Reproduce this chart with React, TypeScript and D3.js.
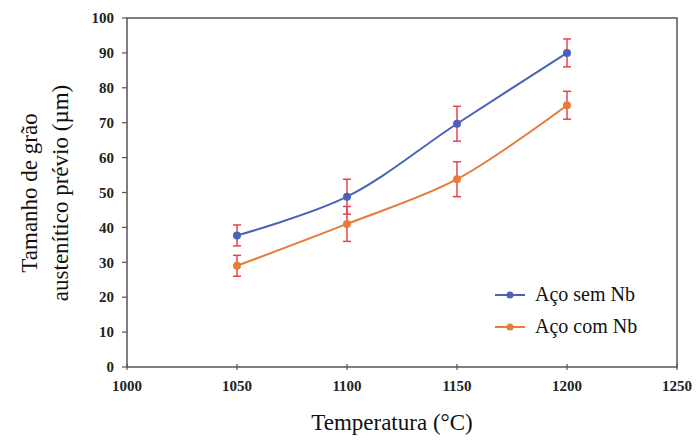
import React from "react";
import * as d3 from "d3";

const temps = [1050, 1100, 1150, 1200];
const semNb = [37.7, 48.8, 69.7, 90];
const semNbErr = [3, 5, 5, 4];
const comNb = [29, 41, 53.8, 75];
const comNbErr = [3, 5, 5, 4];
const xTicks = [1000, 1050, 1100, 1150, 1200, 1250];
const yTicks = [0, 10, 20, 30, 40, 50, 60, 70, 80, 90, 100];
const seriesNames = ["Aço sem Nb", "Aço com Nb"];
const seriesColors = ["#4a63b8", "#e87a3a"];

const W = 698;
const H = 443;
const left = 127;
const right = 677;
const top = 18;
const bottom = 367;

const font = "'Liberation Serif', 'Times New Roman', serif";

export default function App() {
  const x = d3.scaleLinear().domain([1000, 1250]).range([left, right]);
  const y = d3.scaleLinear().domain([0, 100]).range([bottom, top]);
  const line = d3
    .line<[number, number]>()
    .x((d) => x(d[0]))
    .y((d) => y(d[1]))
    .curve(d3.curveCatmullRom.alpha(0.5));

  const series = [
    { vals: semNb, err: semNbErr },
    { vals: comNb, err: comNbErr },
  ];
  const errColor = "#e8434d";
  const ts = { fontFamily: font };

  return (
    <svg
      width={W}
      height={H}
      style={{ position: "absolute", left: 0, top: 0, background: "#fff" }}
    >
      <rect x={0} y={0} width={W} height={H} fill="#fff" />
      <rect x={left} y={top} width={right - left} height={bottom - top} fill="none" stroke="#555" strokeWidth={1.5} />
      {yTicks.map((t) => (
        <g key={"y" + t}>
          <line x1={left - 5} x2={left} y1={y(t)} y2={y(t)} stroke="#555" strokeWidth={1.2} />
          <text
            x={left - 13}
            y={y(t)}
            dy="0.35em"
            textAnchor="end"
            fontSize={15}
            fontWeight="bold"
            fill="#222"
            style={ts}
          >
            {t}
          </text>
        </g>
      ))}
      {xTicks.map((t) => (
        <g key={"x" + t}>
          <line x1={x(t)} x2={x(t)} y1={bottom - 3} y2={bottom + 3} stroke="#555" strokeWidth={1.2} />
          <text
            x={x(t)}
            y={bottom + 19}
            dy="0.35em"
            textAnchor="middle"
            fontSize={15}
            fontWeight="bold"
            fill="#222"
            style={ts}
          >
            {t}
          </text>
        </g>
      ))}
      {series.map((s, i) => (
        <path
          key={"l" + i}
          d={line(temps.map((t, j) => [t, s.vals[j]] as [number, number])) || ""}
          fill="none"
          stroke={seriesColors[i]}
          strokeWidth={2}
        />
      ))}
      {series.map((s, i) =>
        temps.map((t, j) => (
          <g key={"e" + i + "-" + j} stroke={errColor} strokeWidth={1.5}>
            <line x1={x(t)} x2={x(t)} y1={y(s.vals[j] + s.err[j])} y2={y(s.vals[j] - s.err[j])} />
            <line x1={x(t) - 4} x2={x(t) + 4} y1={y(s.vals[j] + s.err[j])} y2={y(s.vals[j] + s.err[j])} />
            <line x1={x(t) - 4} x2={x(t) + 4} y1={y(s.vals[j] - s.err[j])} y2={y(s.vals[j] - s.err[j])} />
          </g>
        ))
      )}
      {series.map((s, i) =>
        temps.map((t, j) => (
          <circle key={"m" + i + "-" + j} cx={x(t)} cy={y(s.vals[j])} r={4} fill={seriesColors[i]} />
        ))
      )}
      {seriesNames.map((n, i) => (
        <g key={"lg" + i} transform={`translate(495, ${295 + i * 32})`}>
          <line x1={0} x2={30} y1={0} y2={0} stroke={seriesColors[i]} strokeWidth={2} />
          <circle cx={15} cy={0} r={3.5} fill={seriesColors[i]} />
          <text x={40} y={0} dy="0.32em" fontSize={20} fill="#111" style={ts}>
            {n}
          </text>
        </g>
      ))}
      <text x={(left + right) / 2 - 10} y={430} textAnchor="middle" fontSize={23} fill="#111" style={ts}>
        Temperatura (°C)
      </text>
      <g transform="translate(37, 193) rotate(-90)">
        <text x={0} y={0} textAnchor="middle" fontSize={23} fill="#111" style={ts}>
          Tamanho de grão
        </text>
        <text x={0} y={31} textAnchor="middle" fontSize={23} fill="#111" style={ts}>
          austenítico prévio (µm)
        </text>
      </g>
    </svg>
  );
}
